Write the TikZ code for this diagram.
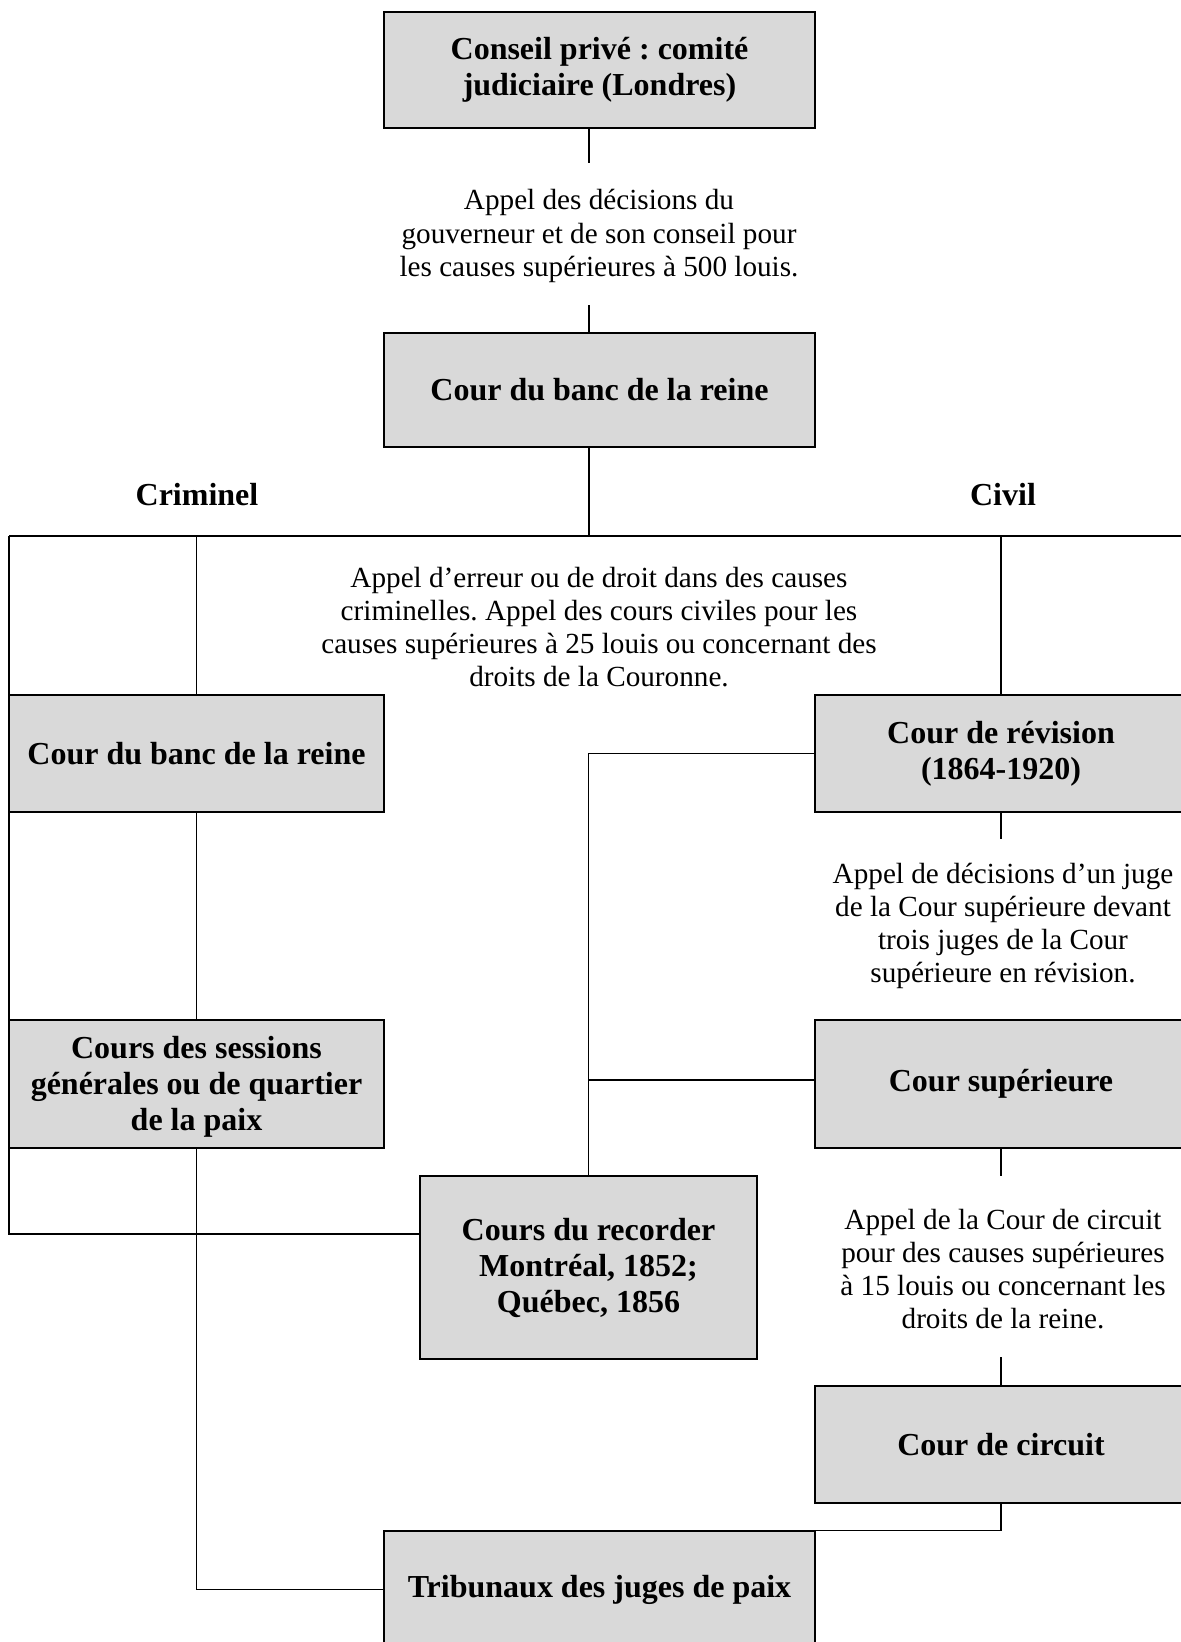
\documentclass[tikz,border=0pt]{standalone}
\usepackage{fontspec}
\setmainfont{Liberation Serif}
\frenchspacing
\definecolor{boxfill}{RGB}{217,217,217}
\tikzset{
  court/.style={draw=black, line width=0.85pt, fill=boxfill, inner sep=0pt, align=center,
    font=\fontsize{16}{18}\selectfont\bfseries},
  lbl/.style={inner sep=0pt, align=center, font=\fontsize{14.6}{16.6}\selectfont},
  hdr/.style={inner sep=0pt, font=\fontsize{16}{18}\selectfont\bfseries},
  conn/.style={draw=black, line width=0.6pt},
}
\begin{document}
\frenchspacing
\begin{tikzpicture}[x=0.5pt,y=-0.5pt]
\useasboundingbox (0,0) rectangle (1181,1642);
\clip (0,0) rectangle (1181,1642);
\fill[white] (0,0) rectangle (1181,1642);
% boxes
\node[court, minimum width=215.5pt, minimum height=58pt] (conseil) at (599.5,70) {Conseil privé : comité\\judiciaire (Londres)};
\node[court, minimum width=215.5pt, minimum height=57pt] (banc) at (599.5,390) {Cour du banc de la reine};
\node[court, minimum width=187.5pt, minimum height=58.5pt] (bancL) at (196.5,753.5) {Cour du banc de la reine};
\node[court, minimum width=186pt, minimum height=58.5pt] (revision) at (1001,753.5) {Cour de révision\\(1864-1920)};
\node[court, minimum width=187.5pt, minimum height=64pt] (sessions) at (196.5,1084) {\rule{0pt}{14pt}Cours des sessions\\générales ou de quartier\\de la paix};
\node[court, minimum width=186pt, minimum height=64pt] (superieure) at (1001,1084) {Cour supérieure};
\node[court, minimum width=168.5pt, minimum height=91.5pt] (recorder) at (588.5,1267.5) {Cours du recorder\\Montréal, 1852;\\Québec, 1856};
\node[court, minimum width=186pt, minimum height=58.5pt] (circuit) at (1001,1444.5) {Cour de circuit};
\node[court, minimum width=215.5pt, minimum height=58.5pt] (tribunaux) at (599.5,1589.5) {Tribunaux des juges de paix};
% labels
\node[lbl] (t1) at (599,236) {Appel des décisions du\\gouverneur et de son conseil pour\\les causes supérieures à 500 louis.};
\node[lbl] (t2) at (599,627) {Appel d’erreur ou de droit dans des causes\\criminelles. Appel des cours civiles pour les\\causes supérieures à 25 louis ou concernant des\\droits de la Couronne.};
\node[lbl] (t3) at (1003,926) {Appel de décisions d’un juge\\de la Cour supérieure devant\\trois juges de la Cour\\supérieure en révision.};
\node[lbl] (t4) at (1003,1269) {Appel de la Cour de circuit\\pour des causes supérieures\\à 15 louis ou concernant les\\droits de la reine.};
\node[hdr] (crim) at (197,495) {Criminel};
\node[hdr] (civ) at (1003,495) {Civil};
% connectors
\coordinate (J) at (589,536);
\coordinate (L) at (9,536);
\coordinate (R) at (1190,536);
\draw[conn] (conseil.south -| J) -- ++(0,34);
\draw[conn] (banc.north -| J) -- ++(0,-27);
\draw[conn] (banc.south -| J) -- (J);
\draw[conn] (L) -- (R);
\draw[conn] (bancL.north) -- (bancL.north |- J);
\draw[conn] (revision.north) -- (revision.north |- J);
\draw[conn] (L) |- ([yshift=16.75pt]recorder.west);
\draw[conn] (bancL.south) -- (sessions.north);
\draw[conn] (revision.west) -| (recorder.north);
\draw[conn] ([yshift=2pt]superieure.west) -- ([yshift=2pt]superieure.west -| J);
\draw[conn] (revision.south) -- ++(0,26);
\draw[conn] (superieure.south) -- ++(0,27);
\draw[conn] (circuit.north) -- ++(0,-28);
\draw[conn] (circuit.south) |- (tribunaux.north east);
\draw[conn] (sessions.south) |- (tribunaux.west);
\end{tikzpicture}
\end{document}
